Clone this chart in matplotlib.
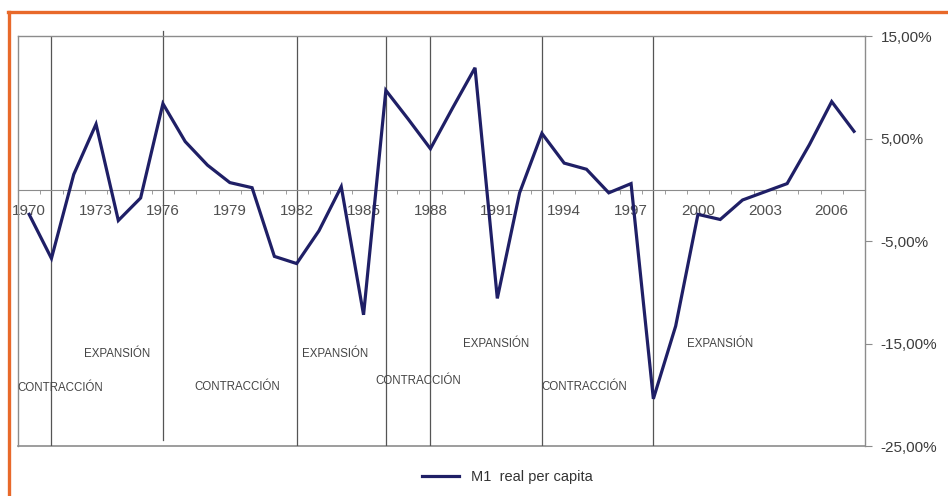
import matplotlib
matplotlib.use("Agg")
import matplotlib.pyplot as plt
from matplotlib.lines import Line2D
from matplotlib.ticker import FuncFormatter

plt.rcParams['font.family'] = ['Liberation Sans', 'DejaVu Sans']

# M1 real per capita growth (%), 1970-2007
years = list(range(1970, 2008))
m1 = [-2.4, -6.7, 1.5, 6.4, -3.0, -0.8, 8.4, 4.7, 2.4, 0.7, 0.2, -6.5, -7.2,
      -4.0, 0.3, -12.2, 9.7, 6.9, 4.0, 8.0, 11.9, -10.6, -0.3, 5.5, 2.6, 2.0,
      -0.3, 0.6, -20.4, -13.3, -2.4, -2.9, -1.0, -0.2, 0.6, 4.4, 8.6, 5.7]

cycle_years = [1971, 1976, 1982, 1986, 1988, 1993, 1998]
phase_labels = ['CONTRACCIÓN', 'EXPANSIÓN', 'CONTRACCIÓN', 'EXPANSIÓN',
                'CONTRACCIÓN', 'EXPANSIÓN', 'CONTRACCIÓN', 'EXPANSIÓN']
phase_pos = [(-0.55, -19.3), (2.46, -16.0), (7.43, -19.2), (12.23, -16.0),
             (15.55, -18.7), (19.45, -15.0), (22.99, -19.2), (29.5, -15.0)]

grey = '#8c8c8c'
txt = '#505050'

fig = plt.figure(figsize=(9.48, 4.96), dpi=100)
ax = fig.add_axes([0.019, 0.1008, 0.8936, 0.8266])
x = list(range(len(years)))

ax.set_xlim(-0.5, len(years) - 0.5)
ax.set_ylim(-25, 15)

for s in ['top', 'left', 'right']:
    ax.spines[s].set_color(grey)
    ax.spines[s].set_linewidth(1.0)
ax.spines['bottom'].set_position(('data', 0))
ax.spines['bottom'].set_color(grey)
ax.axhline(-25, color=grey, lw=1.2, clip_on=False, zorder=1)

# cycle boundaries
for yr in cycle_years:
    i = years.index(yr)
    if yr == 1976:
        ax.axvline(i, ymin=0.015, ymax=1.013, color='#555555', lw=0.9,
                   clip_on=False, zorder=1)
    else:
        ax.axvline(i, color='#555555', lw=0.9, zorder=1)

ax.plot(x, m1, color='#1f1f66', lw=2.3, solid_joinstyle='miter',
        label='M1  real per capita', zorder=3)

# category axis along zero line
ax.set_xticks(x[::3])
ax.set_xticklabels([str(y) for y in years[::3]])
ax.set_xticks([i - 0.5 for i in range(len(years) + 1)], minor=True)
ax.tick_params(axis='x', which='major', length=0, pad=10, labelsize=11,
               labelcolor=txt)
ax.tick_params(axis='x', which='minor', length=3, direction='out',
               color=grey)

ax.yaxis.tick_right()
ax.yaxis.set_major_formatter(FuncFormatter(
    lambda v, p: ('%.2f%%' % v).replace('.', ',')))
ax.yaxis.set_major_locator(plt.FixedLocator([15, 5, -5, -15, -25]))
ax.tick_params(axis='y', length=5, color=grey, labelsize=11,
               labelcolor='#3c3c3c', pad=6)

for lab, (px, py) in zip(phase_labels, phase_pos):
    ax.text(px, py, lab, fontsize=8.3, color='#444444', ha='left',
            va='center', zorder=4)

fig.legend(loc='center', bbox_to_anchor=(0.535, 0.038), frameon=False,
           fontsize=10.5, handlelength=2.6, labelcolor='#333333')

# orange frame (top and left)
fig.add_artist(Line2D([0.0085, 1.0], [0.976, 0.976], color='#e8692a',
                      lw=2.4, transform=fig.transFigure))
fig.add_artist(Line2D([0.0095, 0.0095], [0.0, 0.976], color='#e8692a',
                      lw=2.4, transform=fig.transFigure))

fig.savefig('out.png', dpi=100)
